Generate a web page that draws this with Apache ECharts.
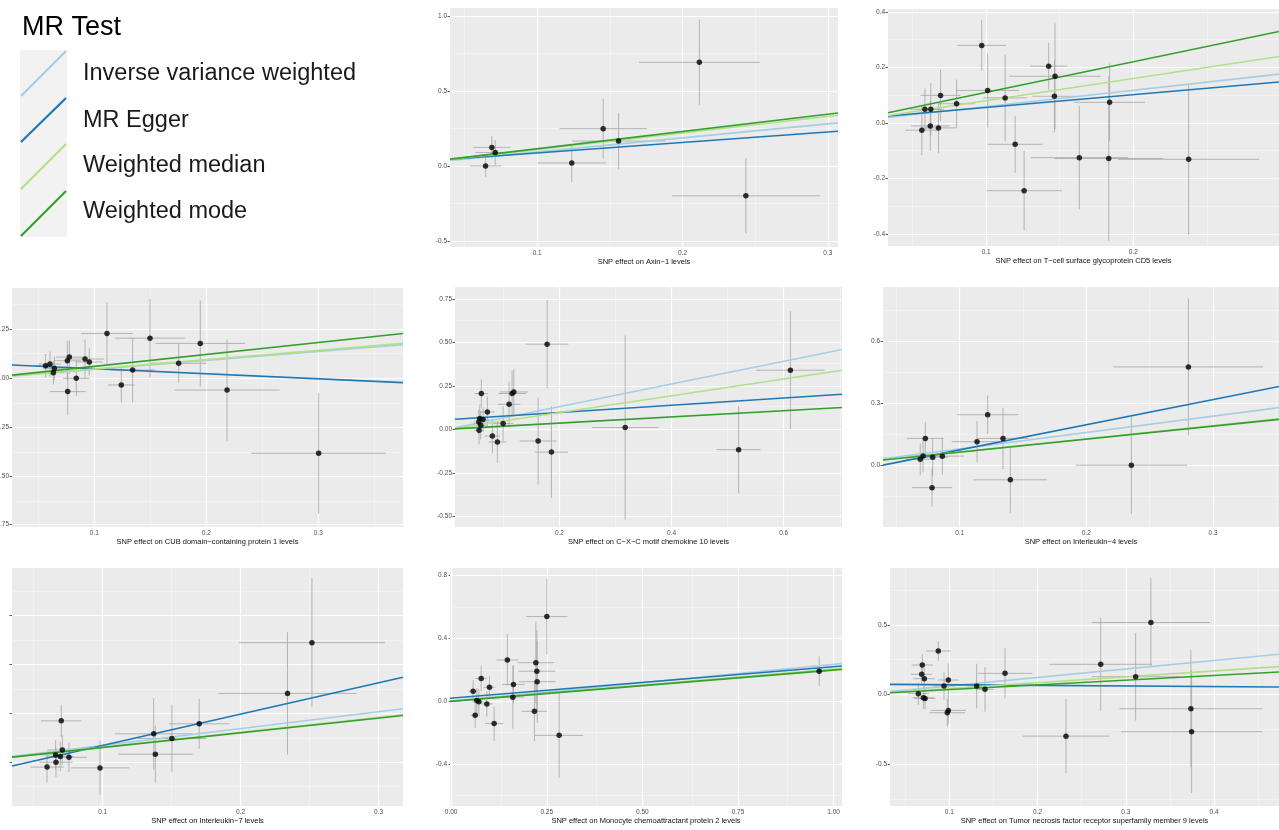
<!DOCTYPE html>
<html><head><meta charset="utf-8">
<script src="https://cdn.jsdelivr.net/npm/echarts@6/dist/echarts.min.js"></script>
<style>html,body{margin:0;padding:0;background:#fff}#c{width:1279px;height:830px}</style>
</head><body><div id="c"></div>
<script>
// ---------- data ----------
const methods = ['Inverse variance weighted', 'MR Egger', 'Weighted median', 'Weighted mode'];
const methodColors = ['#a6cee3', '#1f78b4', '#b2df8a', '#33a02c'];

// Axin-1
const axinBx = [0.0645, 0.0688, 0.0711, 0.1238, 0.1454, 0.156, 0.2116, 0.2436];
const axinBy = [0.0, 0.124, 0.09, 0.02, 0.249, 0.166, 0.691, -0.199];
const axinSeX = [0.0107, 0.0128, 0.0137, 0.0235, 0.030, 0.032, 0.0415, 0.051];
const axinSeY = [0.072, 0.075, 0.083, 0.127, 0.199, 0.188, 0.285, 0.25];
const axinIntercepts = [0, 0.017, 0, 0];
const axinSlopes = [0.935, 0.70, 1.10, 1.15];
const axinXTicks = [0.1, 0.2, 0.3];
const axinYTicks = [-0.5, 0, 0.5, 1.0];

// T-cell surface glycoprotein CD5
const cd5Bx = [0.0563, 0.0584, 0.0624, 0.062, 0.0676, 0.069, 0.0799, 0.097, 0.101, 0.1129, 0.1197, 0.1258, 0.1425, 0.1468, 0.1464, 0.1633, 0.1833, 0.1839, 0.2376];
const cd5By = [-0.026, 0.049, 0.049, -0.011, -0.018, 0.099, 0.069, 0.279, 0.117, 0.09, -0.077, -0.244, 0.204, 0.168, 0.096, -0.125, -0.128, 0.074, -0.131];
const cd5SeX = [0.0113, 0.010, 0.009, 0.013, 0.012, 0.0136, 0.012, 0.0165, 0.0215, 0.0147, 0.0187, 0.0257, 0.0127, 0.031, 0.015, 0.033, 0.037, 0.024, 0.048];
const cd5SeY = [0.09, 0.075, 0.094, 0.09, 0.09, 0.093, 0.087, 0.091, 0.133, 0.156, 0.102, 0.144, 0.084, 0.19, 0.13, 0.186, 0.296, 0.14, 0.273];
const cd5Intercepts = [0, 0.0095, 0, 0];
const cd5Slopes = [0.587, 0.46, 0.80, 1.10];
const cd5XTicks = [0.1, 0.2];
const cd5YTicks = [-0.4, -0.2, 0, 0.2, 0.4];

// CUB domain-containing protein 1
const cubBx = [0.0565, 0.0604, 0.0643, 0.0634, 0.0759, 0.0777, 0.0762, 0.0839, 0.0917, 0.0955, 0.1113, 0.1241, 0.1342, 0.1497, 0.1753, 0.1946, 0.2185, 0.3003];
const cubBy = [0.065, 0.073, 0.051, 0.029, 0.090, 0.109, -0.068, 0.0, 0.099, 0.084, 0.230, -0.034, 0.043, 0.206, 0.077, 0.179, -0.060, -0.384];
const cubSeX = [0.009, 0.01, 0.01, 0.01, 0.012, 0.012, 0.016, 0.012, 0.017, 0.012, 0.023, 0.012, 0.02, 0.031, 0.025, 0.04, 0.047, 0.06];
const cubSeY = [0.06, 0.065, 0.06, 0.06, 0.1, 0.085, 0.12, 0.09, 0.1, 0.07, 0.16, 0.09, 0.166, 0.2, 0.1, 0.22, 0.26, 0.31];
const cubIntercepts = [0, 0.075, 0, 0];
const cubSlopes = [0.46, -0.258, 0.477, 0.612];
const cubXTicks = [0.1, 0.2, 0.3];
const cubYTicks = [-0.75, -0.5, -0.25, 0, 0.25];

// C-X-C motif chemokine 10
const cxclBx = [0.0607, 0.0579, 0.0561, 0.0637, 0.0596, 0.0566, 0.0714, 0.0804, 0.0893, 0.0995, 0.1102, 0.1155, 0.1186, 0.1620, 0.1857, 0.178, 0.3173, 0.5196, 0.612];
const cxclBy = [0.206, 0.062, 0.042, 0.056, 0.023, -0.006, 0.100, -0.039, -0.073, 0.033, 0.144, 0.206, 0.215, -0.067, -0.131, 0.490, 0.010, -0.117, 0.340];
const cxclSeX = [0.012, 0.01, 0.009, 0.011, 0.01, 0.009, 0.013, 0.014, 0.016, 0.018, 0.02, 0.025, 0.025, 0.033, 0.03, 0.038, 0.059, 0.039, 0.061];
const cxclSeY = [0.08, 0.08, 0.07, 0.07, 0.08, 0.08, 0.09, 0.1, 0.12, 0.1, 0.13, 0.13, 0.13, 0.25, 0.265, 0.255, 0.53, 0.25, 0.34];
const cxclIntercepts = [0, 0.055, 0, 0];
const cxclSlopes = [0.653, 0.209, 0.483, 0.178];
const cxclXTicks = [0.2, 0.4, 0.6];
const cxclYTicks = [-0.5, -0.25, 0, 0.25, 0.5, 0.75];

// Interleukin-4
const il4Bx = [0.0689, 0.0711, 0.0729, 0.0787, 0.0782, 0.0863, 0.1137, 0.1221, 0.1342, 0.140, 0.2355, 0.2805];
const il4By = [0.029, 0.045, 0.130, 0.039, -0.109, 0.044, 0.114, 0.245, 0.130, -0.071, 0.0, 0.477];
const il4SeX = [0.012, 0.012, 0.0145, 0.012, 0.016, 0.017, 0.02, 0.024, 0.02, 0.029, 0.044, 0.059];
const il4SeY = [0.077, 0.08, 0.08, 0.09, 0.093, 0.09, 0.1, 0.093, 0.148, 0.16, 0.235, 0.333];
const il4Intercepts = [0, -0.048, 0, 0];
const il4Slopes = [0.794, 1.222, 0.64, 0.632];
const il4XTicks = [0.1, 0.2, 0.3];
const il4YTicks = [0, 0.3, 0.6];

// Interleukin-7
const il7Bx = [0.0597, 0.0662, 0.0659, 0.0693, 0.070, 0.0708, 0.0756, 0.0981, 0.137, 0.1382, 0.1502, 0.170, 0.234, 0.2517];
const il7By = [-0.010, 0.0, 0.015, 0.0116, 0.0846, 0.025, 0.010, -0.0116, 0.058, 0.0164, 0.0485, 0.0785, 0.1406, 0.2444];
const il7SeX = [0.012, 0.012, 0.01, 0.01, 0.0146, 0.011, 0.013, 0.021, 0.028, 0.027, 0.025, 0.022, 0.05, 0.053];
const il7SeY = [0.031, 0.03, 0.03, 0.03, 0.033, 0.03, 0.03, 0.055, 0.073, 0.058, 0.069, 0.051, 0.125, 0.132];
const il7Intercepts = [0, -0.0295, 0, 0];
const il7Slopes = [0.344, 0.640, 0.305, 0.301];
const il7XTicks = [0.1, 0.2, 0.3];
const il7YTicks = [0, 0.1, 0.2, 0.3];

// Monocyte chemoattractant protein 2
const mcp2Bx = [0.147, 0.2215, 0.2241, 0.2249, 0.0785, 0.1002, 0.0575, 0.1629, 0.1613, 0.0672, 0.0724, 0.0934, 0.2178, 0.0628, 0.1124, 0.2824, 0.2503, 0.9623];
const mcp2By = [0.262, 0.245, 0.191, 0.124, 0.145, 0.089, 0.064, 0.107, 0.026, 0.004, -0.004, -0.017, -0.064, -0.089, -0.142, -0.217, 0.538, 0.191];
const mcp2SeX = [0.028, 0.048, 0.048, 0.048, 0.015, 0.015, 0.012, 0.03, 0.03, 0.012, 0.012, 0.015, 0.033, 0.012, 0.024, 0.063, 0.054, 0.015];
const mcp2SeY = [0.165, 0.26, 0.26, 0.26, 0.08, 0.07, 0.07, 0.12, 0.2, 0.08, 0.08, 0.08, 0.19, 0.08, 0.11, 0.27, 0.24, 0.094];
const mcp2Intercepts = [0, 0.02, 0, 0];
const mcp2Slopes = [0.235, 0.2, 0.205, 0.198];
const mcp2XTicks = [0, 0.25, 0.5, 0.75, 1.0];
const mcp2YTicks = [-0.4, 0, 0.4, 0.8];

// Tumor necrosis factor receptor superfamily member 9
const tnfBx = [0.0875, 0.0694, 0.0687, 0.0717, 0.0989, 0.094, 0.131, 0.1404, 0.1631, 0.0649, 0.0706, 0.0725, 0.0989, 0.0977, 0.2715, 0.3111, 0.3284, 0.2322, 0.3737, 0.3745];
const tnfBy = [0.3115, 0.211, 0.144, 0.113, 0.103, 0.060, 0.060, 0.036, 0.151, 0.005, -0.024, -0.029, -0.115, -0.132, 0.216, 0.127, 0.516, -0.300, -0.103, -0.268];
const tnfSeX = [0.014, 0.012, 0.012, 0.012, 0.012, 0.012, 0.01, 0.01, 0.031, 0.012, 0.012, 0.012, 0.02, 0.02, 0.058, 0.05, 0.067, 0.049, 0.081, 0.08];
const tnfSeY = [0.07, 0.08, 0.08, 0.08, 0.12, 0.1, 0.16, 0.16, 0.18, 0.08, 0.08, 0.08, 0.1, 0.1, 0.335, 0.315, 0.32, 0.266, 0.42, 0.44];
const tnfIntercepts = [0, 0.0734, 0, 0];
const tnfSlopes = [0.609, -0.043, 0.421, 0.34];
const tnfXTicks = [0.1, 0.2, 0.3, 0.4];
const tnfYTicks = [-0.5, 0, 0.5];

// ---------- layout ----------
const panels = [
  {title: 'SNP effect on Axin\u22121 levels', bx: axinBx, by: axinBy, sx: axinSeX, sy: axinSeY, a: axinIntercepts, b: axinSlopes,
   xT: axinXTicks, yT: axinYTicks, xd: 1, yd: 1, box: [450, 8, 388, 239], xr: [0.040, 0.307], yr: [-0.54, 1.053], yLab: true},
  {title: 'SNP effect on T\u2212cell surface glycoprotein CD5 levels', bx: cd5Bx, by: cd5By, sx: cd5SeX, sy: cd5SeY, a: cd5Intercepts, b: cd5Slopes,
   xT: cd5XTicks, yT: cd5YTicks, xd: 1, yd: 1, box: [888, 9, 391, 237], xr: [0.0333, 0.299], yr: [-0.443, 0.41], yLab: true},
  {title: 'SNP effect on CUB domain\u2212containing protein 1 levels', bx: cubBx, by: cubBy, sx: cubSeX, sy: cubSeY, a: cubIntercepts, b: cubSlopes,
   xT: cubXTicks, yT: cubYTicks, xd: 1, yd: 2, box: [12, 288, 391, 239], xr: [0.0265, 0.3756], yr: [-0.762, 0.463], yLab: true},
  {title: 'SNP effect on C\u2212X\u2212C motif chemokine 10 levels', bx: cxclBx, by: cxclBy, sx: cxclSeX, sy: cxclSeY, a: cxclIntercepts, b: cxclSlopes,
   xT: cxclXTicks, yT: cxclYTicks, xd: 1, yd: 2, box: [455, 287, 387, 240], xr: [0.0137, 0.704], yr: [-0.562, 0.819], yLab: true},
  {title: 'SNP effect on Interleukin\u22124 levels', bx: il4Bx, by: il4By, sx: il4SeX, sy: il4SeY, a: il4Intercepts, b: il4Slopes,
   xT: il4XTicks, yT: il4YTicks, xd: 1, yd: 1, box: [883, 287, 396, 240], xr: [0.0395, 0.352], yr: [-0.30, 0.865], yLab: true},
  {title: 'SNP effect on Interleukin\u22127 levels', bx: il7Bx, by: il7By, sx: il7SeX, sy: il7SeY, a: il7Intercepts, b: il7Slopes,
   xT: il7XTicks, yT: il7YTicks, xd: 1, yd: 1, box: [12, 568, 391, 238], xr: [0.0343, 0.3177], yr: [-0.0895, 0.397], yLab: false},
  {title: 'SNP effect on Monocyte chemoattractant protein 2 levels', bx: mcp2Bx, by: mcp2By, sx: mcp2SeX, sy: mcp2SeY, a: mcp2Intercepts, b: mcp2Slopes,
   xT: mcp2XTicks, yT: mcp2YTicks, xd: 2, yd: 1, box: [450, 568, 392, 238], xr: [-0.003, 1.022], yr: [-0.666, 0.847], yLab: true},
  {title: 'SNP effect on Tumor necrosis factor receptor superfamily member 9 levels', bx: tnfBx, by: tnfBy, sx: tnfSeX, sy: tnfSeY, a: tnfIntercepts, b: tnfSlopes,
   xT: tnfXTicks, yT: tnfYTicks, xd: 1, yd: 1, box: [890, 568, 389, 238], xr: [0.0328, 0.4735], yr: [-0.802, 0.908], yLab: true}
];

function minorsOf(ticks, range) {
  // ggplot-style minor breaks: midpoints between majors, extended one step beyond
  const step = ticks.length > 1 ? ticks[1] - ticks[0] : 0.1;
  const out = [];
  for (let v = ticks[0] - step / 2; v <= range[1]; v += step) {
    const r = Math.round(v * 100000) / 100000;
    if (r > range[0] && r < range[1]) out.push(r);
  }
  return out;
}
function majorsIn(ticks, range) { return ticks.filter(v => v > range[0] && v < range[1]); }

const FONT = '"Liberation Sans", Arial, Helvetica, sans-serif';
const grids = [], xAxes = [], yAxes = [], series = [];

panels.forEach((p, i) => {
  grids.push({left: p.box[0], top: p.box[1], width: p.box[2], height: p.box[3], show: true,
    backgroundColor: '#ebebeb', borderWidth: 0, containLabel: false, outerBoundsMode: 'none'});
  xAxes.push({type: 'value', gridIndex: i, min: p.xr[0], max: p.xr[1],
    axisLine: {show: false}, splitLine: {show: false}, minorSplitLine: {show: false},
    axisTick: {show: true, length: 2.5, lineStyle: {color: '#333', width: 0.8}, customValues: p.xT},
    axisLabel: {customValues: p.xT, fontSize: 6.5, color: '#4d4d4d', margin: 2.5, fontFamily: FONT,
      formatter: v => Number(v).toFixed(p.xd)},
    name: p.title, nameLocation: 'middle', nameGap: 11,
    nameTextStyle: {fontSize: 7.5, color: '#111', fontFamily: FONT}});
  yAxes.push({type: 'value', gridIndex: i, min: p.yr[0], max: p.yr[1],
    axisLine: {show: false}, splitLine: {show: false}, minorSplitLine: {show: false},
    axisTick: {show: true, length: 2.5, lineStyle: {color: '#333', width: 0.8}, customValues: p.yT},
    axisLabel: {show: p.yLab, customValues: p.yT, fontSize: 6.5, color: '#4d4d4d', margin: 3, fontFamily: FONT,
      formatter: v => Number(v).toFixed(p.yd)}});

  const gl = [];
  minorsOf(p.xT, p.xr).forEach(v => gl.push({xAxis: v, lineStyle: {width: 0.6, color: '#f6f6f6'}}));
  minorsOf(p.yT, p.yr).forEach(v => gl.push({yAxis: v, lineStyle: {width: 0.6, color: '#f6f6f6'}}));
  majorsIn(p.xT, p.xr).forEach(v => gl.push({xAxis: v}));
  majorsIn(p.yT, p.yr).forEach(v => gl.push({yAxis: v}));
  series.push({type: 'line', xAxisIndex: i, yAxisIndex: i, data: [], silent: true,
    markLine: {silent: true, z: 1, symbol: ['none', 'none'], label: {show: false}, animation: false,
      lineStyle: {color: '#ffffff', type: 'solid', width: 1.2}, emphasis: {disabled: true}, data: gl}});

  series.push({type: 'custom', xAxisIndex: i, yAxisIndex: i, z: 2, silent: true, clip: true,
    data: p.bx.map((x, j) => [x, p.by[j], p.sx[j], p.sy[j]]),
    encode: {x: 0, y: 1},
    renderItem: (params, api) => {
      const x = api.value(0), y = api.value(1), sx = api.value(2), sy = api.value(3);
      const h1 = api.coord([x - sx, y]), h2 = api.coord([x + sx, y]);
      const v1 = api.coord([x, y - sy]), v2 = api.coord([x, y + sy]);
      const st = {stroke: '#a4a4a4', lineWidth: 0.8};
      return {type: 'group', children: [
        {type: 'line', shape: {x1: h1[0], y1: h1[1], x2: h2[0], y2: h2[1]}, style: st},
        {type: 'line', shape: {x1: v1[0], y1: v1[1], x2: v2[0], y2: v2[1]}, style: st}
      ]};
    }});

  methods.forEach((m, k) => {
    series.push({type: 'line', name: m, xAxisIndex: i, yAxisIndex: i, z: 3, silent: true,
      showSymbol: false, symbol: 'none', clip: true,
      lineStyle: {color: methodColors[k], width: 1.6},
      data: [[p.xr[0], p.a[k] + p.b[k] * p.xr[0]], [p.xr[1], p.a[k] + p.b[k] * p.xr[1]]]});
  });

  series.push({type: 'scatter', xAxisIndex: i, yAxisIndex: i, z: 4, silent: true,
    symbolSize: 5.5, itemStyle: {color: '#000'},
    data: p.bx.map((x, j) => [x, p.by[j]])});
});

// legend drawn as graphic
const legendGraphic = [
  {type: 'text', left: 22, top: 14, style: {text: 'MR Test', font: '27px ' + FONT, fill: '#000'}},
  {type: 'rect', shape: {x: 20, y: 50, width: 47, height: 187}, style: {fill: '#f2f2f2'}}
];
const legendRowTop = [50, 97, 143, 190];
const legendRowH = [47, 46, 47, 47];
const legendLabelCenter = [75, 122, 167, 213];
methods.forEach((m, k) => {
  const y0 = legendRowTop[k], h = legendRowH[k];
  legendGraphic.push({type: 'line', shape: {x1: 21, y1: y0 + h - 1, x2: 66, y2: y0 + 1},
    style: {stroke: methodColors[k], lineWidth: 2.2}});
  legendGraphic.push({type: 'text', left: 83, top: legendLabelCenter[k] - 13, style: {text: m, font: '23.5px ' + FONT, fill: '#1a1a1a'}});
});

const chart = echarts.init(document.getElementById('c'), null, {renderer: 'canvas'});
chart.setOption({
  animation: false,
  textStyle: {fontFamily: FONT},
  grid: grids, xAxis: xAxes, yAxis: yAxes, series: series,
  graphic: legendGraphic
});
</script>
</body></html>
